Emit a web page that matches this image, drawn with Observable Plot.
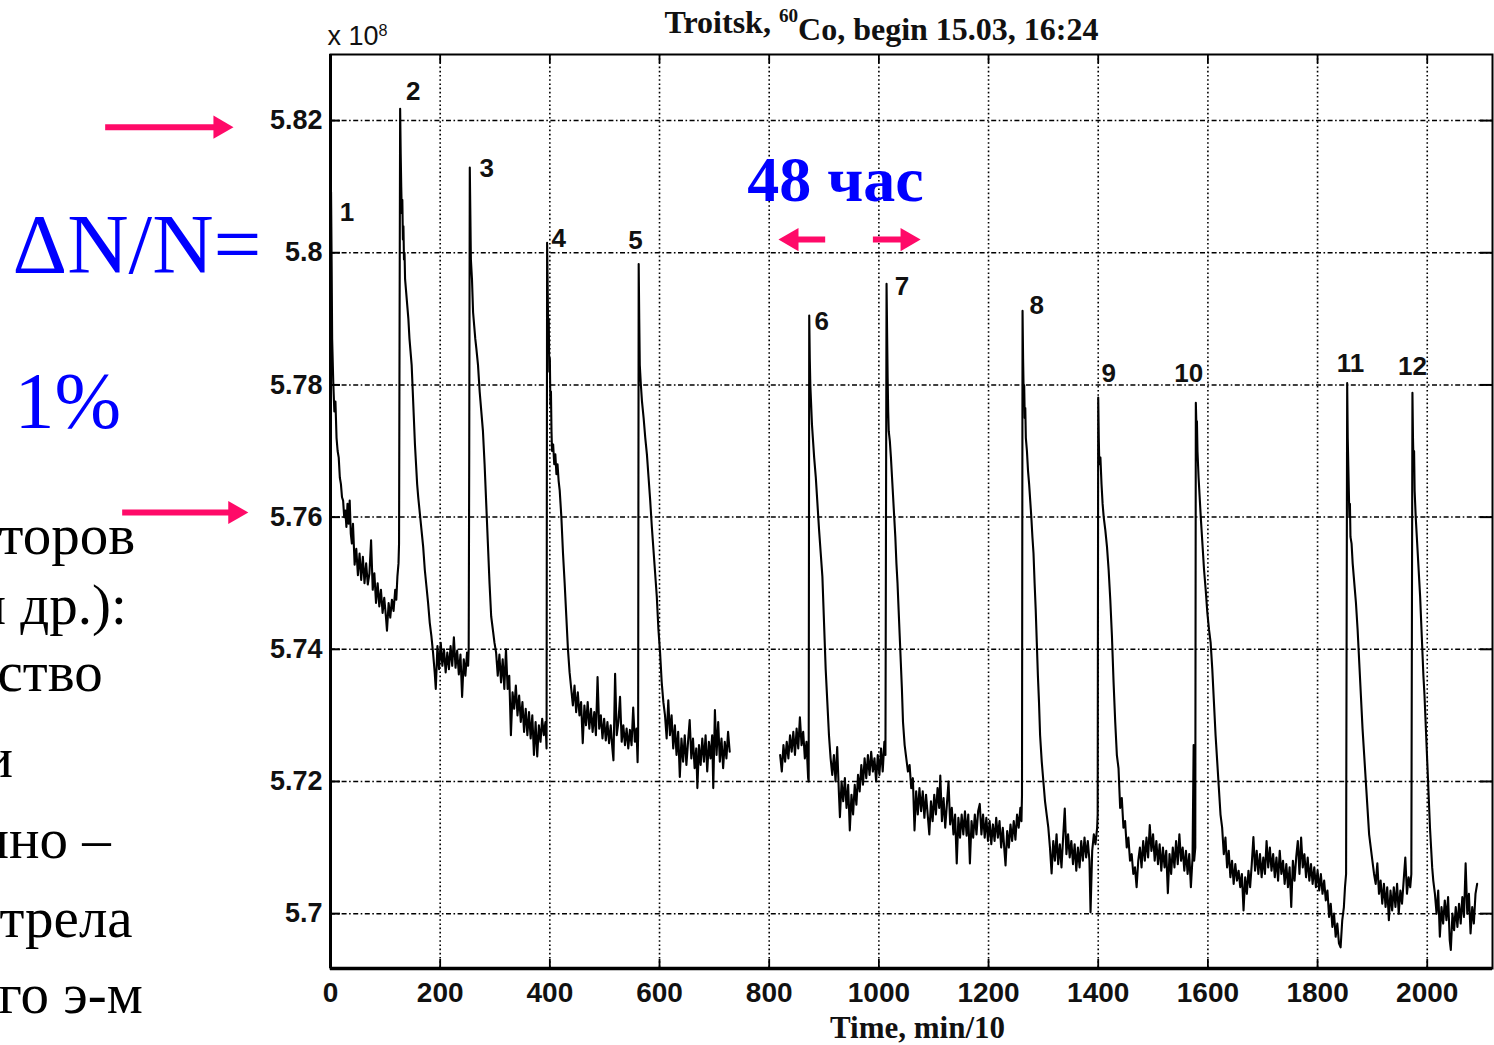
<!DOCTYPE html>
<html>
<head>
<meta charset="utf-8">
<script src="https://cdn.jsdelivr.net/npm/d3@7"></script>
<script src="https://cdn.jsdelivr.net/npm/@observablehq/plot@0.6"></script>
<style>
  html, body { margin: 0; padding: 0; background: #fff; overflow: hidden; }
  #chart { width: 1494px; height: 1045px; }
  #chart svg { display: block; }
</style>
</head>
<body>
<div id="chart"></div>
<script>
// ---------- data (counts in units of 10^8, time in min/10) ----------
const time = [
  0,1,2,3,5,7,9,11,13,15,
  17,19,21,23,25,27,29,31,33,35,
  37,39,41,44,47,50,53,56,59,62,
  65,68,71,74,77,80,83,86,89,92,
  95,98,101,103,106,109,112,115,118,120,
  122,124,125,126,127,128,129,130,131,132,
  133,134,135,136,138,140,142,144,146,148,
  150,152,154,156,158,160,163,166,169,172,
  175,178,181,184,187,190,192,195,198,201,
  204,207,210,213,216,219,222,225,228,231,
  234,237,240,243,246,249,251,252,253,254,
  255,256,258,260,262,264,266,269,272,275,
  278,281,284,287,290,293,296,299,302,305,
  308,311,314,317,320,323,326,329,332,335,
  338,341,344,347,350,353,356,359,362,365,
  368,371,374,377,380,383,386,389,392,394,
  395,396,397,398,399,400,401,402,403,404,
  406,408,410,412,414,416,418,421,424,427,
  430,433,436,439,442,445,448,451,454,457,
  460,463,466,469,472,475,478,481,484,487,
  490,493,496,499,502,505,508,511,514,516,
  519,522,525,528,531,534,537,540,543,546,
  549,552,555,558,560,561,562,563,564,566,
  568,571,574,577,580,583,586,589,592,595,
  598,601,604,607,610,613,616,619,622,625,
  628,631,634,637,640,643,646,649,652,655,
  658,661,664,667,669,672,675,678,681,684,
  687,690,693,696,698,701,704,707,710,713,
  716,719,722,725,728,775,820,823,826,829,
  832,835,838,841,844,847,850,853,856,859,
  862,865,868,871,872,873,874,875,876,878,
  880,882,885,888,891,894,897,900,903,906,
  909,912,915,918,921,924,927,929,932,935,
  938,941,944,947,950,953,956,959,962,965,
  968,971,974,977,980,983,986,989,992,995,
  998,1001,1004,1007,1010,1012,1013,1014,1015,1016,
  1017,1018,1020,1022,1024,1026,1028,1030,1032,1034,
  1036,1038,1040,1042,1044,1047,1050,1053,1056,1059,
  1062,1065,1068,1071,1074,1077,1080,1083,1086,1089,
  1092,1095,1098,1101,1104,1107,1110,1112,1115,1118,
  1121,1124,1127,1130,1133,1136,1139,1142,1145,1148,
  1151,1154,1157,1160,1163,1166,1169,1172,1175,1178,
  1181,1184,1187,1190,1193,1196,1199,1202,1205,1208,
  1211,1214,1217,1220,1223,1226,1229,1231,1234,1237,
  1240,1243,1246,1249,1252,1255,1258,1260,1261,1262,
  1263,1264,1265,1266,1267,1268,1270,1272,1274,1276,
  1278,1280,1282,1284,1286,1288,1290,1292,1294,1297,
  1300,1303,1306,1309,1312,1315,1318,1321,1324,1327,
  1330,1333,1336,1339,1342,1345,1348,1351,1354,1357,
  1360,1363,1366,1369,1372,1375,1378,1381,1384,1386,
  1389,1392,1395,1398,1399,1400,1401,1402,1404,1406,
  1408,1410,1413,1416,1419,1422,1425,1428,1431,1434,
  1437,1440,1443,1446,1449,1452,1455,1458,1461,1464,
  1467,1470,1473,1476,1479,1482,1485,1488,1491,1494,
  1497,1500,1503,1506,1509,1512,1515,1518,1521,1524,
  1527,1530,1533,1536,1539,1542,1545,1548,1551,1554,
  1557,1560,1563,1566,1569,1572,1574,1575,1577,1578,
  1579,1580,1581,1583,1585,1587,1590,1593,1596,1599,
  1602,1605,1608,1611,1614,1617,1620,1623,1626,1629,
  1632,1635,1638,1641,1644,1647,1650,1653,1656,1659,
  1662,1665,1668,1671,1674,1677,1680,1683,1686,1689,
  1692,1695,1698,1701,1704,1707,1710,1713,1716,1719,
  1722,1725,1728,1731,1734,1737,1740,1743,1746,1749,
  1752,1755,1758,1761,1764,1767,1770,1773,1776,1779,
  1782,1785,1788,1791,1794,1797,1800,1803,1806,1809,
  1812,1815,1818,1821,1824,1827,1830,1833,1836,1839,
  1842,1845,1848,1850,1852,1854,1855,1856,1857,1858,
  1859,1860,1862,1864,1866,1868,1870,1873,1876,1879,
  1882,1885,1888,1891,1894,1897,1900,1903,1906,1909,
  1912,1915,1918,1921,1924,1927,1930,1933,1936,1939,
  1942,1945,1948,1951,1954,1957,1960,1963,1966,1969,
  1971,1973,1974,1975,1976,1977,1979,1981,1983,1985,
  1987,1989,1991,1993,1995,1997,1999,2001,2003,2005,
  2007,2009,2011,2014,2017,2020,2023,2026,2029,2032,
  2035,2038,2041,2043,2046,2049,2052,2055,2058,2061,
  2064,2067,2070,2073,2076,2079,2082,2085,2088,2091
];
const counts = [
  5.7055,5.8092,5.7990,5.7870,5.7805,5.7760,5.7775,5.7720,5.7700,5.7690,
  5.7660,5.7650,5.7630,5.7625,5.7600,5.7610,5.7585,5.7620,5.7590,5.7625,
  5.7575,5.7560,5.7590,5.7528,5.7552,5.7512,5.7545,5.7505,5.7540,5.7500,
  5.7530,5.7498,5.7515,5.7565,5.7490,5.7515,5.7470,5.7500,5.7465,5.7490,
  5.7455,5.7478,5.7450,5.7428,5.7470,5.7448,5.7475,5.7458,5.7490,5.7475,
  5.7510,5.7530,5.7560,5.7900,5.8218,5.8150,5.8100,5.8060,5.8080,5.8020,
  5.8040,5.7990,5.8000,5.7960,5.7940,5.7920,5.7900,5.7870,5.7850,5.7830,
  5.7790,5.7750,5.7710,5.7680,5.7650,5.7630,5.7605,5.7580,5.7555,5.7520,
  5.7495,5.7470,5.7440,5.7420,5.7395,5.7365,5.7340,5.7405,5.7370,5.7410,
  5.7375,5.7400,5.7365,5.7395,5.7370,5.7405,5.7375,5.7418,5.7372,5.7398,
  5.7362,5.7392,5.7328,5.7385,5.7360,5.7395,5.7375,5.7400,5.7700,5.8129,
  5.8060,5.7990,5.7960,5.7910,5.7890,5.7870,5.7855,5.7830,5.7790,5.7760,
  5.7730,5.7680,5.7620,5.7560,5.7500,5.7450,5.7430,5.7410,5.7395,5.7360,
  5.7392,5.7350,5.7385,5.7340,5.7400,5.7340,5.7360,5.7270,5.7335,5.7310,
  5.7345,5.7300,5.7330,5.7290,5.7320,5.7275,5.7310,5.7270,5.7305,5.7265,
  5.7300,5.7240,5.7290,5.7238,5.7285,5.7260,5.7295,5.7270,5.7290,5.7250,
  5.8015,5.7950,5.7880,5.7900,5.7820,5.7840,5.7770,5.7790,5.7730,5.7700,
  5.7710,5.7680,5.7695,5.7665,5.7680,5.7655,5.7640,5.7600,5.7545,5.7500,
  5.7450,5.7400,5.7365,5.7340,5.7315,5.7345,5.7305,5.7335,5.7300,5.7320,
  5.7258,5.7315,5.7285,5.7320,5.7280,5.7310,5.7275,5.7305,5.7270,5.7358,
  5.7280,5.7300,5.7265,5.7295,5.7262,5.7290,5.7258,5.7285,5.7250,5.7232,
  5.7363,5.7270,5.7290,5.7328,5.7260,5.7285,5.7255,5.7280,5.7250,5.7278,
  5.7255,5.7312,5.7260,5.7280,5.7229,5.7270,5.7983,5.7900,5.7830,5.7800,
  5.7775,5.7750,5.7720,5.7695,5.7660,5.7625,5.7585,5.7550,5.7515,5.7480,
  5.7430,5.7395,5.7350,5.7320,5.7300,5.7265,5.7323,5.7270,5.7300,5.7250,
  5.7285,5.7240,5.7275,5.7207,5.7265,5.7230,5.7270,5.7225,5.7260,5.7293,
  5.7235,5.7265,5.7220,5.7250,5.7190,5.7255,5.7225,5.7265,5.7230,5.7270,
  5.7215,5.7260,5.7235,5.7270,5.7190,5.7308,5.7240,5.7290,5.7230,5.7265,
  5.7220,5.7260,5.7235,5.7275,5.7245,NaN,5.7240,5.7215,5.7255,5.7230,
  5.7260,5.7235,5.7270,5.7245,5.7275,5.7240,5.7280,5.7250,5.7297,5.7255,
  5.7275,5.7235,5.7260,5.7205,5.7200,5.7905,5.7840,5.7800,5.7780,5.7740,
  5.7715,5.7690,5.7660,5.7620,5.7580,5.7545,5.7510,5.7440,5.7370,5.7320,
  5.7270,5.7235,5.7210,5.7240,5.7200,5.7252,5.7185,5.7146,5.7200,5.7170,
  5.7205,5.7160,5.7195,5.7126,5.7180,5.7150,5.7195,5.7165,5.7210,5.7185,
  5.7225,5.7195,5.7235,5.7205,5.7240,5.7210,5.7245,5.7215,5.7235,5.7200,
  5.7240,5.7210,5.7250,5.7215,5.7260,5.7240,5.7600,5.7953,5.7880,5.7810,
  5.7760,5.7730,5.7715,5.7690,5.7660,5.7630,5.7600,5.7570,5.7530,5.7500,
  5.7460,5.7420,5.7380,5.7340,5.7290,5.7255,5.7235,5.7215,5.7225,5.7190,
  5.7205,5.7126,5.7185,5.7150,5.7190,5.7155,5.7185,5.7145,5.7180,5.7150,
  5.7120,5.7170,5.7140,5.7180,5.7150,5.7190,5.7160,5.7209,5.7140,5.7175,
  5.7130,5.7165,5.7200,5.7135,5.7160,5.7120,5.7150,5.7076,5.7145,5.7115,
  5.7150,5.7120,5.7155,5.7118,5.7150,5.7076,5.7140,5.7115,5.7150,5.7120,
  5.7155,5.7166,5.7120,5.7150,5.7115,5.7145,5.7110,5.7140,5.7105,5.7135,
  5.7110,5.7145,5.7115,5.7140,5.7100,5.7130,5.7095,5.7073,5.7125,5.7100,
  5.7135,5.7110,5.7140,5.7112,5.7150,5.7130,5.7160,5.7140,5.7180,5.7912,
  5.7840,5.7790,5.7800,5.7750,5.7765,5.7720,5.7700,5.7670,5.7650,5.7625,
  5.7600,5.7570,5.7545,5.7500,5.7460,5.7410,5.7360,5.7320,5.7270,5.7230,
  5.7200,5.7170,5.7150,5.7130,5.7100,5.7061,5.7110,5.7080,5.7120,5.7075,
  5.7105,5.7070,5.7115,5.7159,5.7090,5.7120,5.7085,5.7110,5.7075,5.7105,
  5.7065,5.7100,5.7070,5.7110,5.7080,5.7115,5.7085,5.7110,5.7080,5.7002,
  5.7095,5.7120,5.7105,5.7130,5.7150,5.7781,5.7720,5.7680,5.7690,5.7650,
  5.7620,5.7600,5.7580,5.7555,5.7520,5.7475,5.7420,5.7350,5.7290,5.7240,
  5.7220,5.7160,5.7175,5.7130,5.7140,5.7100,5.7115,5.7080,5.7090,5.7060,
  5.7070,5.7040,5.7080,5.7100,5.7070,5.7110,5.7080,5.7115,5.7085,5.7134,
  5.7095,5.7120,5.7080,5.7110,5.7075,5.7105,5.7065,5.7100,5.7070,5.7095,
  5.7031,5.7090,5.7060,5.7100,5.7070,5.7110,5.7075,5.7120,5.7080,5.7100,
  5.7065,5.7095,5.7060,5.7090,5.7040,5.7085,5.7255,5.7080,5.7100,5.7773,
  5.7740,5.7745,5.7700,5.7660,5.7630,5.7600,5.7560,5.7520,5.7490,5.7455,
  5.7430,5.7410,5.7370,5.7320,5.7270,5.7230,5.7190,5.7150,5.7130,5.7090,
  5.7115,5.7070,5.7095,5.7055,5.7080,5.7045,5.7075,5.7050,5.7065,5.7040,
  5.7060,5.7005,5.7055,5.7030,5.7065,5.7040,5.7075,5.7116,5.7065,5.7095,
  5.7060,5.7090,5.7055,5.7085,5.7060,5.7110,5.7070,5.7100,5.7065,5.7090,
  5.7055,5.7085,5.7050,5.7095,5.7060,5.7080,5.7045,5.7075,5.7040,5.7070,
  5.7010,5.7080,5.7050,5.7085,5.7110,5.7060,5.7115,5.7070,5.7090,5.7055,
  5.7085,5.7050,5.7075,5.7045,5.7070,5.7040,5.7065,5.7035,5.7060,5.7030,
  5.7050,5.7020,5.7035,5.6995,5.7015,5.6980,5.7000,5.6965,5.6985,5.6955,
  5.6949,5.6990,5.7010,5.7040,5.7060,5.7803,5.7720,5.7680,5.7640,5.7600,
  5.7620,5.7570,5.7560,5.7530,5.7510,5.7490,5.7470,5.7430,5.7380,5.7330,
  5.7280,5.7240,5.7200,5.7160,5.7120,5.7100,5.7080,5.7060,5.7045,5.7076,
  5.7030,5.7050,5.7015,5.7045,5.7010,5.7040,5.6990,5.7035,5.7005,5.7040,
  5.7010,5.7045,5.7000,5.7035,5.7015,5.7050,5.7085,5.7030,5.7055,5.7040,
  5.7060,5.7788,5.7720,5.7680,5.7700,5.7640,5.7600,5.7570,5.7540,5.7510,
  5.7480,5.7440,5.7400,5.7360,5.7330,5.7290,5.7250,5.7210,5.7170,5.7130,
  5.7100,5.7070,5.7050,5.7030,5.7000,5.7035,5.6965,5.7010,5.6985,5.7020,
  5.6990,5.7025,5.6960,5.6945,5.7000,5.6975,5.7010,5.6980,5.7015,5.6985,
  5.7025,5.6995,5.7076,5.7000,5.7030,5.6970,5.7010,5.6985,5.7030,5.7045
];

// peak numbering labels
const peakNames = ["1","2","3","4","5","6","7","8","9","10","11","12"];
const peakLabelTime = [30, 151, 285, 416, 556, 896, 1042, 1288, 1419, 1565, 1860, 1973];
const peakLabelCount = [5.8061, 5.8243, 5.8127, 5.8021, 5.8019, 5.7895, 5.7948, 5.7920, 5.7817, 5.7817, 5.7832, 5.7827];

// axes
const xTicks = [0, 200, 400, 600, 800, 1000, 1200, 1400, 1600, 1800, 2000];
const yTicks = [5.70, 5.72, 5.74, 5.76, 5.78, 5.80, 5.82];
const yTickLabels = ["5.7", "5.72", "5.74", "5.76", "5.78", "5.8", "5.82"];
const xDomain = [0, 2119];
const yDomain = [5.6917, 5.83];

// texts
const titleParts = ["Troitsk, ", "60", "Co, begin 15.03, 16:24"];
const multiplierParts = ["x 10", "8"];
const xLabel = "Time, min/10";
const periodText = "48 час";
const deltaText = "\u0394N/N=";
const percentText = "1%";
const slideText = ["торов", "и др.):", "ство", "и", "пно \u2013", "трела", "го э-м"];

// arrows (annotation): tail time, tip time, level
const arrowTail = [-410, -379, 903, 990];
const arrowTip = [-177, -150, 817, 1076];
const arrowLevel = [5.8190, 5.7607, 5.8020, 5.8020];

// ---------- layout / style ----------
const W = 1494, H = 1045;
const M = {top: 54, right: 2, bottom: 77, left: 330};
const frameW = W - M.left - M.right, frameH = H - M.top - M.bottom;
const pink = "#ff0a68", blue = "#0000ff", ink = "#111";
const serif = "'Liberation Serif', 'Times New Roman', serif";
const sans = "'Liberation Sans', Arial, sans-serif";

const samples = time.map((t, i) => ({t, n: counts[i]}));
const arrows = arrowTail.map((t, i) => ({tail: t, tip: arrowTip[i], y: arrowLevel[i], right: arrowTip[i] > t}));
const rightArrows = arrows.filter(d => d.right);
const leftArrows = arrows.filter(d => !d.right);

// slide fragments at the left (pixel placement relative to frame)
const slideLeft = [-2, -25, -3, -18, -22, -1, -2];
const slideBase = [553, 623, 690, 776, 857, 936, 1012];
const slideMarks = slideText.map((s, i) => Plot.text([s], {
  frameAnchor: "top-left", dx: slideLeft[i] - M.left, dy: slideBase[i] - M.top,
  lineAnchor: "bottom", textAnchor: "start", fontFamily: serif, fontSize: 57, fill: "#000"
}));

const plot = Plot.plot({
  width: W, height: H,
  marginTop: M.top, marginRight: M.right, marginBottom: M.bottom, marginLeft: M.left,
  x: {domain: xDomain, axis: null},
  y: {domain: yDomain, axis: null},
  style: {background: "#fff", overflow: "visible"},
  marks: [
    // dotted grid
    Plot.ruleX(xTicks.slice(1), {stroke: "#000", strokeWidth: 1.6, strokeDasharray: "1.6,2.6"}),
    Plot.ruleY(yTicks, {stroke: "#000", strokeWidth: 1.5, strokeDasharray: "5,2.5,1.6,2.5"}),
    // inward ticks
    Plot.ruleX(xTicks, {insetTop: frameH - 9, stroke: "#000", strokeWidth: 1.8}),
    Plot.ruleX(xTicks, {insetBottom: frameH - 9, stroke: "#000", strokeWidth: 1.8}),
    Plot.ruleY(yTicks, {insetRight: frameW - 10, stroke: "#000", strokeWidth: 2}),
    Plot.ruleY(yTicks, {insetLeft: frameW - 12, stroke: "#000", strokeWidth: 2}),
    // frame
    Plot.frame({stroke: "#000", strokeWidth: 2}),
    Plot.ruleX([xDomain[0]], {stroke: "#000", strokeWidth: 3}),
    Plot.ruleY([yDomain[0]], {stroke: "#000", strokeWidth: 3.5}),
    // data
    Plot.line(samples, {x: "t", y: "n", stroke: "#000", strokeWidth: 2.1}),
    // peak numbers
    Plot.text(peakNames, {x: (d, i) => peakLabelTime[i], y: (d, i) => peakLabelCount[i],
      fontFamily: sans, fontWeight: "bold", fontSize: 26, fill: ink}),
    // tick labels
    Plot.text(xTicks, {x: d => d, frameAnchor: "bottom", lineAnchor: "middle", dy: 25, text: d => String(d),
      fontFamily: sans, fontWeight: "bold", fontSize: 28, fill: ink}),
    Plot.text(yTicks, {y: d => d, frameAnchor: "left", lineAnchor: "middle", dx: -8, textAnchor: "end", text: (d, i) => yTickLabels[i],
      fontFamily: sans, fontWeight: "bold", fontSize: 27, fill: ink}),
    // title, multiplier, x label
    Plot.text([titleParts.join("")], {frameAnchor: "top-left", textAnchor: "middle", lineAnchor: "middle", dx: 551, dy: -32,
      fontFamily: serif, fontWeight: "bold", fontSize: 32, fill: ink}),
    Plot.text([multiplierParts.join("")], {frameAnchor: "top-left", textAnchor: "start", lineAnchor: "middle", dx: -3, dy: -18,
      fontFamily: sans, fontSize: 27, fill: ink}),
    Plot.text([xLabel], {frameAnchor: "bottom-left", textAnchor: "middle", lineAnchor: "middle", dx: 587, dy: 60,
      fontFamily: serif, fontWeight: "bold", fontSize: 31, fill: ink}),
    // blue slide annotations
    Plot.text([periodText], {frameAnchor: "top-left", textAnchor: "middle", lineAnchor: "bottom", dx: 505, dy: 146,
      fontFamily: serif, fontWeight: "bold", fontSize: 64, fill: blue}),
    Plot.text([deltaText], {frameAnchor: "top-left", dx: -318, dy: 218, lineAnchor: "bottom", textAnchor: "start",
      fontFamily: serif, fontSize: 85, fill: blue}),
    Plot.text([percentText], {frameAnchor: "top-left", dx: -316, dy: 373, lineAnchor: "bottom", textAnchor: "start",
      fontFamily: serif, fontSize: 80, fill: blue}),
    // arrows
    Plot.ruleY(rightArrows, {y: "y", x1: "tail", x2: "tip", insetRight: 12, stroke: pink, strokeWidth: 6}),
    Plot.ruleY(leftArrows, {y: "y", x1: "tip", x2: "tail", insetLeft: 12, stroke: pink, strokeWidth: 6}),
    Plot.dot(rightArrows, {x: "tip", y: "y", symbol: "triangle", r: 8.6, rotate: 90, dx: -13.3, fill: pink, stroke: null}),
    Plot.dot(leftArrows, {x: "tip", y: "y", symbol: "triangle", r: 8.6, rotate: -90, dx: 13.3, fill: pink, stroke: null}),
    // slide text fragments
    ...slideMarks
  ]
});

// raise the superscripts ("60" in the title, "8" in the multiplier)
function superscript(textEl, parts, supIndex) {
  const t = d3.select(textEl);
  t.text(null);
  parts.forEach((p, i) => {
    const s = t.append("tspan").text(p);
    if (i === supIndex) s.attr("font-size", "60%").attr("dy", "-0.55em");
    else if (i === supIndex + 1) s.attr("dy", "0.55em");
  });
}
const svg = d3.select(plot);
svg.selectAll("text").each(function () {
  if (this.textContent === titleParts.join("")) superscript(this, titleParts, 1);
  else if (this.textContent === multiplierParts.join("")) superscript(this, multiplierParts, 1);
});

document.getElementById("chart").appendChild(plot);
</script>
</body>
</html>
